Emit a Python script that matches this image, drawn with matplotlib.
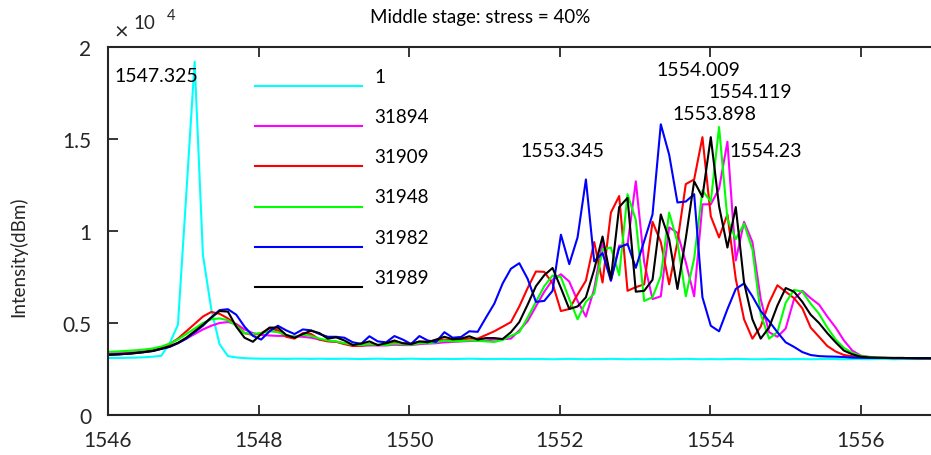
import numpy as np
import matplotlib
matplotlib.use("Agg")
import matplotlib.pyplot as plt

plt.rcParams['font.family'] = ['Lato', 'DejaVu Sans']

# Wavelength grid of the spectrometer (nm), step ~0.1106 nm
wl = np.round(1545.934 + 0.1106 * np.arange(101), 3)

labels = ['1', '31894', '31909', '31948', '31982', '31989']
colors = ['#00ffff', '#ff00ff', '#ff0000', '#00ff00', '#0000ff', '#000000']

s_1 = [3100, 3100, 3100, 3110, 3120, 3140, 3170, 3220, 3900, 4900,
       12000, 19200, 8700, 5750, 3850, 3200, 3130, 3090, 3070, 3060,
       3060, 3060, 3050, 3060, 3060, 3050, 3060, 3050, 3050, 3060,
       3050, 3040, 3050, 3060, 3050, 3040, 3050, 3060, 3050, 3040,
       3050, 3050, 3040, 3050, 3060, 3050, 3040, 3040, 3050, 3040,
       3040, 3050, 3040, 3040, 3030, 3040, 3050, 3040, 3030, 3040,
       3040, 3050, 3040, 3030, 3040, 3030, 3040, 3040, 3030, 3040,
       3050, 3040, 3030, 3040, 3030, 3040, 3050, 3040, 3030, 3030,
       3040, 3040, 3030, 3040, 3040, 3030, 3040, 3050, 3040, 3030,
       3040, 3040, 3030, 3040, 3040, 3030, 3040, 3040, 3040, 3050,
       3040]

s_31894 = [3330, 3340, 3360, 3390, 3420, 3470, 3530, 3620, 3750, 3920,
           4150, 4400, 4650, 4850, 5000, 5050, 4950, 4650, 4450, 4350,
           4320, 4300, 4300, 4270, 4250, 4200, 4100, 4030, 3980, 3900,
           3800, 3760, 3780, 3780, 3780, 3820, 3800, 3800, 3850, 3880,
           3900, 3950, 3970, 4000, 4020, 4030, 4050, 4100, 4120, 4150,
           4600, 5100, 5900, 6700, 7350, 7650, 7250, 6200, 5350, 6850,
           9400, 7300, 9200, 9250, 12700, 8300, 6300, 6450, 10200, 9900,
           8300, 6450, 11450, 11450, 12300, 14850, 8400, 10500, 9400, 6300,
           4500, 4250, 4700, 6300, 6750, 6350, 6000, 5350, 4750, 4050,
           3500, 3230, 3160, 3130, 3110, 3100, 3100, 3090, 3090, 3090,
           3080]

s_31909 = [3270, 3290, 3310, 3340, 3380, 3440, 3520, 3650, 3850, 4150,
           4550, 4950, 5350, 5600, 5500, 5250, 4900, 4450, 4350, 4450,
           4700, 4600, 4250, 4150, 4450, 4400, 4100, 4000, 3980, 3850,
           3750, 3760, 3850, 3800, 3820, 3950, 3900, 3880, 3980, 4000,
           4050, 4100, 4050, 4100, 4150, 4150, 4350, 4550, 4800, 5050,
           5900, 6900, 7800, 7780, 7150, 5650, 5760, 6550, 7300, 9400,
           7200, 11000, 11900, 6750, 6950, 7100, 10500, 9400, 7100, 9400,
           12550, 12800, 15100, 10800, 9650, 10900, 7400, 5200, 4150, 4800,
           6100, 7050, 6700, 6350, 5800, 4750, 4250, 3750, 3450, 3260,
           3190, 3140, 3120, 3100, 3100, 3090, 3090, 3090, 3080, 3080,
           3080]

s_31948 = [3420, 3440, 3460, 3490, 3520, 3560, 3620, 3720, 3880, 4100,
           4400, 4700, 5000, 5200, 5250, 5150, 4850, 4450, 4400, 4450,
           4550, 4500, 4350, 4250, 4350, 4300, 4150, 4050, 4000, 3900,
           3820, 3800, 3850, 3820, 3800, 3880, 3850, 3820, 3900, 3900,
           3950, 4050, 4000, 4020, 4050, 4030, 4000, 3970, 4080, 4300,
           4500, 5300, 6150, 7000, 7580, 7500, 6300, 5200, 6150, 6600,
           9000, 9100, 7600, 12000, 10600, 6200, 6400, 7550, 11000, 9400,
           6450, 8500, 12200, 11600, 15650, 10650, 9550, 10400, 9000, 5500,
           4150, 4500, 6100, 6800, 6700, 6050, 5500, 4750, 4100, 3650,
           3380, 3210, 3150, 3120, 3110, 3100, 3100, 3090, 3090, 3090,
           3080]

s_31982 = [3260, 3280, 3300, 3330, 3370, 3420, 3480, 3590, 3700, 3900,
           4150, 4500, 4850, 5300, 5700, 5750, 5450, 4800, 4300, 4100,
           4550, 4850, 4600, 4400, 4650, 4600, 4400, 4250, 4250, 4200,
           3950, 3870, 4280, 4000, 3950, 4290, 4100, 3860, 4290, 4050,
           3970, 4500, 4200, 4240, 4550, 4520, 5300, 6050, 7150, 7950,
           8250, 7400, 6150, 6200, 6750, 9800, 8200, 9650, 12800, 8350,
           8800, 7300, 9100, 9300, 8000, 9450, 10900, 15800, 14150, 11550,
           11600, 12000, 6400, 4850, 4550, 5750, 6850, 7150, 6450, 5650,
           5100, 4500, 3950, 3700, 3420, 3260, 3200, 3180, 3170, 3150,
           3120, 3110, 3100, 3100, 3100, 3090, 3090, 3090, 3080, 3080,
           3080]

s_31989 = [3260, 3280, 3300, 3330, 3370, 3420, 3480, 3600, 3720, 3920,
           4200, 4550, 4900, 5300, 5650, 5620, 4800, 4200, 3980, 4400,
           4750, 4750, 4350, 4200, 4400, 4580, 4450, 4150, 4220, 4050,
           3800, 3880, 4000, 3800, 3900, 4050, 3900, 3850, 4000, 3950,
           4100, 4250, 4120, 4150, 4280, 4100, 4180, 4180, 4130, 4500,
           5050, 6000, 7000, 7600, 7990, 6900, 5760, 5900, 6400, 7900,
           9700, 7400, 11300, 11800, 6700, 6750, 7350, 10900, 9550, 6850,
           9600, 12700, 11850, 15100, 11350, 9100, 11300, 7200, 5200, 4150,
           4750, 5950, 6900, 6700, 6150, 5450, 5000, 4450, 3950, 3500,
           3300, 3170, 3130, 3110, 3100, 3100, 3100, 3090, 3090, 3090,
           3080]

series = [s_1, s_31894, s_31909, s_31948, s_31982, s_31989]

# peak annotations: (text, x, y)
peak_texts = ['1547.325', '1553.345', '1554.009', '1554.119', '1553.898', '1554.23']
peak_x = [1546.09, 1551.48, 1553.28, 1553.98, 1553.50, 1554.26]
peak_y = [18450, 14350, 18800, 17600, 16360, 14350]

W, H = 931, 456
fig = plt.figure(figsize=(W / 100, H / 100), dpi=100)
ax = fig.add_axes([108 / W, 1 - 416 / H, (936 - 108) / W, (416 - 48) / H])

for y, c in zip(series, colors):
    ax.plot(wl, y, color=c, lw=1.5)

ax.set_xlim(1546, 1557)
ax.set_ylim(0, 20000)
ax.set_xticks([1546, 1548, 1550, 1552, 1554, 1556])
ax.set_yticks([0, 5000, 10000, 15000, 20000])
ax.set_yticklabels(['0', '0.5', '1', '1.5', '2'])

for side in ['left', 'bottom', 'top']:
    ax.spines[side].set_color('#262626')
    ax.spines[side].set_linewidth(1.5)
ax.spines['right'].set_visible(False)
ax.tick_params(direction='in', length=7, width=1.3, colors='#262626',
               top=True, right=False, labelsize=15)
ax.tick_params(axis='x', pad=11)
ax.tick_params(axis='y', pad=12)

for t, x, y in zip(peak_texts, peak_x, peak_y):
    ax.text(x, y, t, fontsize=14, ha='left', va='center', color='black')

# legend drawn by hand: no box, label sits above its line
for j, (lab, c) in enumerate(zip(labels, colors)):
    yl = 0.894 - j * 0.1092
    ax.plot([0.177, 0.307], [yl, yl], color=c, lw=1.5, transform=ax.transAxes)
    ax.text(0.322, yl + 0.026, lab, fontsize=13.5, ha='left', va='center',
            transform=ax.transAxes)

# exponent label and titles
fig.text(121 / W, 1 - 33 / H, '×', fontsize=17, ha='center', va='center', color='#262626')
fig.text(133 / W, 1 - 24 / H, '10', fontsize=13.5, ha='left', va='center', color='#262626')
fig.text(167 / W, 1 - 16 / H, '4', fontsize=10.5, ha='left', va='center', color='#262626')
fig.text(480 / W, 1 - 18 / H, 'Middle stage: stress = 40%', fontsize=13.5,
         ha='center', va='center')
fig.text(18 / W, 1 - 257 / H, 'Intensity(dBm)', fontsize=13.5, rotation=90,
         ha='center', va='center', color='#262626')

fig.savefig('out.png', dpi=100)
